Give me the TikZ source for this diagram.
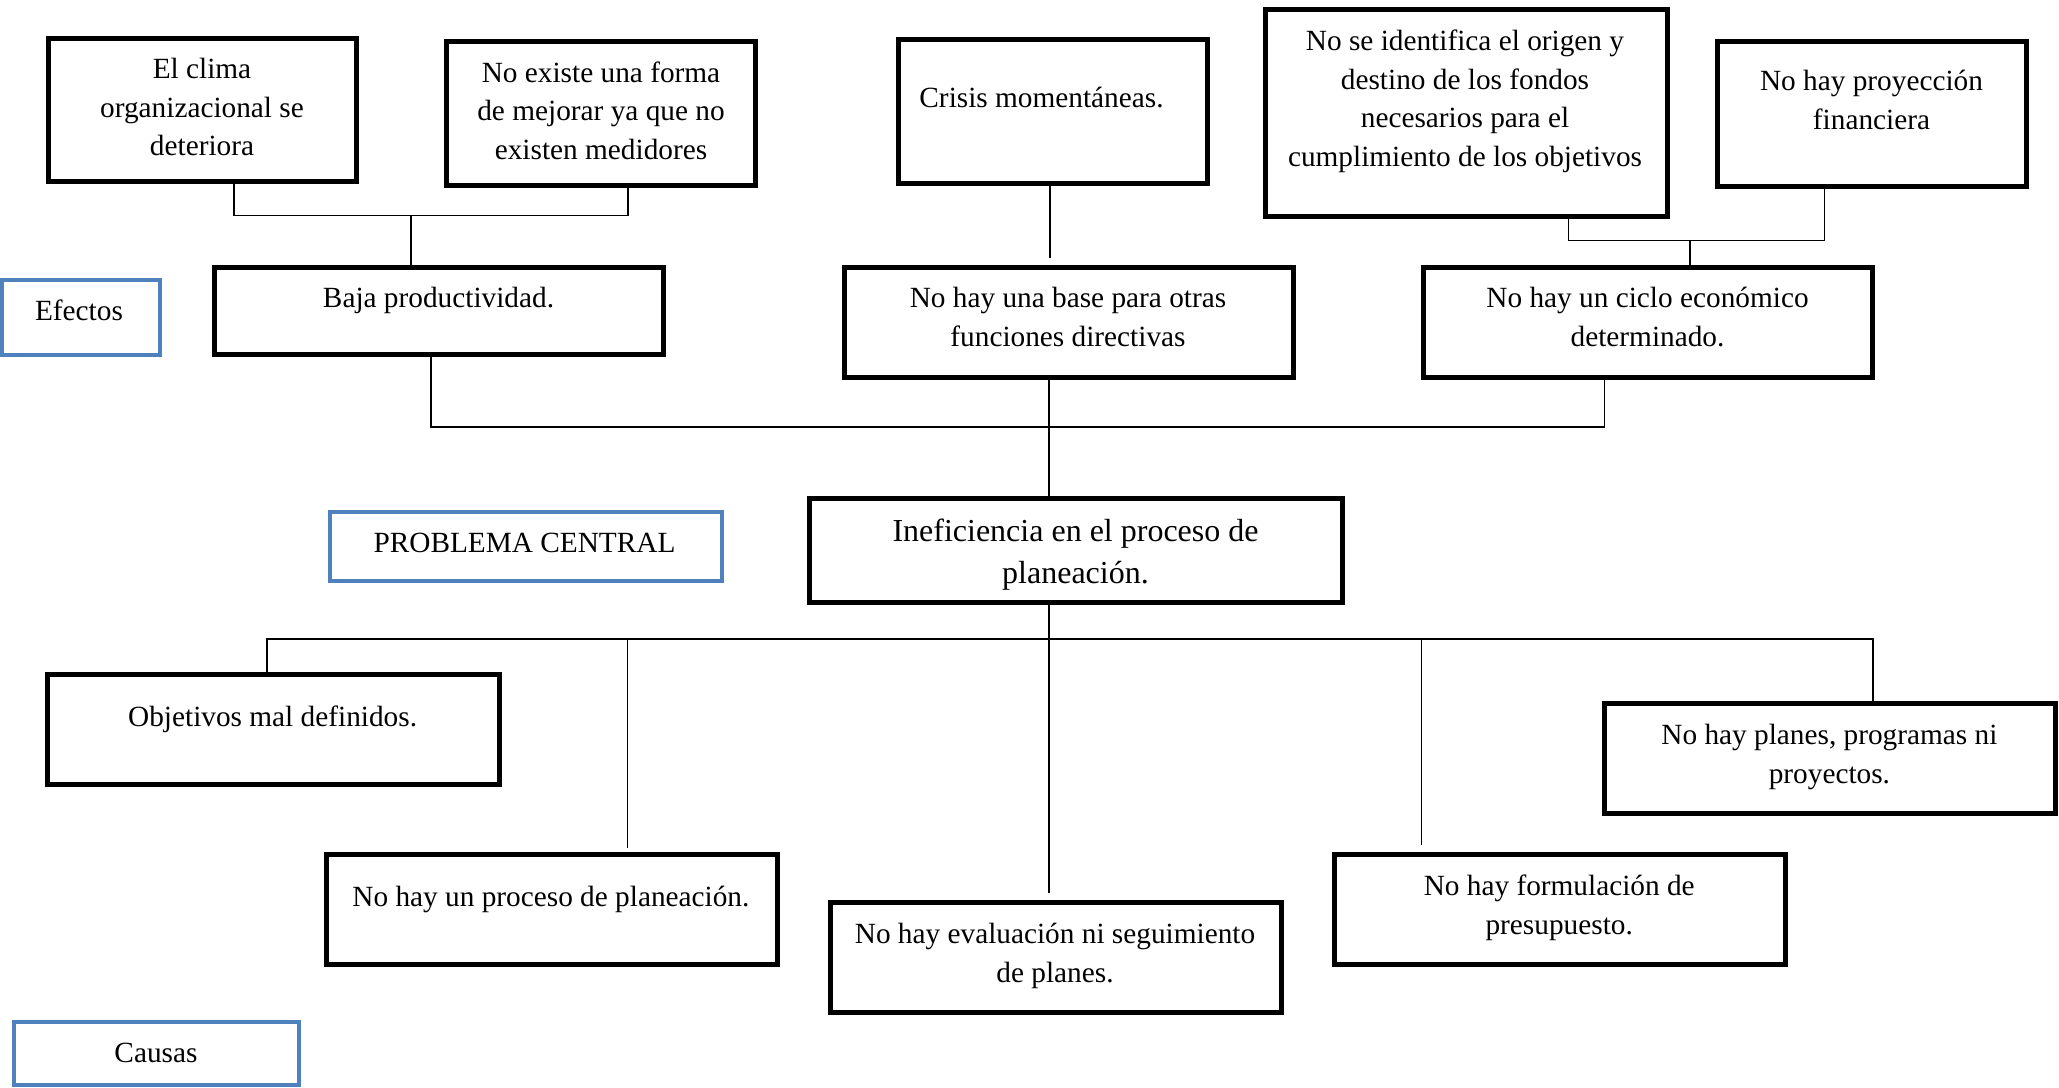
\documentclass[tikz,border=0pt]{standalone}
\usepackage{fontspec}
\setmainfont{Liberation Serif}
\usetikzlibrary{fit}
\definecolor{bluebd}{RGB}{79,129,189}
\begin{document}
\begin{tikzpicture}[x=0.5pt,y=-0.5pt,
  box/.style={draw=black,line width=2.5pt,inner sep=0pt,outer sep=0pt},
  bbox/.style={draw=bluebd,line width=2pt,inner sep=0pt,outer sep=0pt},
  txt/.style={font=\fontsize{14.65pt}{19.35pt}\selectfont,align=center,inner sep=0pt,yshift=-1.3pt},
  txtb/.style={font=\fontsize{16pt}{21.1pt}\selectfont,align=center,inner sep=0pt,yshift=-1.3pt},
  conn/.style={draw=black,line width=0.8pt}]
\useasboundingbox (0,0) rectangle (2059,1087);
% boxes
\node[box,fit={(48,38.5)(356,181)}] (b1) {};
\node[box,fit={(446.5,41.5)(755,185)}] (b2) {};
\node[box,fit={(898.5,39)(1207.5,183)}] (crisis) {};
\node[box,fit={(1265.5,9.5)(1667.5,216)}] (b4) {};
\node[box,fit={(1717.5,41.5)(2026,186)}] (b5) {};
\node[bbox,fit={(2,280)(160,355)}] (efectos) {};
\node[box,fit={(214,267)(663.5,354)}] (baja) {};
\node[box,fit={(844,267)(1293,377)}] (base) {};
\node[box,fit={(1423,267)(1872,377)}] (ciclo) {};
\node[bbox,fit={(330,512)(721.5,581)}] (pc) {};
\node[box,fit={(809,498.5)(1342,602.5)}] (inef) {};
\node[box,fit={(47.5,674)(499,784)}] (obj) {};
\node[box,fit={(1604,703.5)(2055.5,813)}] (planes) {};
\node[box,fit={(326,854)(777,964)}] (proc) {};
\node[box,fit={(830.5,902)(1281.5,1012)}] (eval) {};
\node[box,fit={(1334.5,854)(1785.5,964)}] (form) {};
\node[bbox,fit={(14,1022)(299,1085)}] (causas) {};
% texts
\node[txt] (t1) at (202,106.7) {\strut El clima\\\strut organizacional se\\\strut deteriora};
\node[txt] (t2) at (601,110.5) {\strut No existe una forma\\\strut de mejorar ya que no\\\strut existen medidores};
\node[txt] (t3) at (1041.5,96.7) {\strut Crisis momentáneas.};
\node[txt] (t4) at (1465,98.3) {\strut No se identifica el origen y\\\strut destino de los fondos\\\strut necesarios para el\\\strut cumplimiento de los objetivos};
\node[txt] (t5) at (1871.5,100) {\strut No hay proyección\\\strut financiera};
\node[txt] (t6) at (79,310) {\strut Efectos};
\node[txt] (t7) at (438.5,296.7) {\strut Baja productividad.};
\node[txt] (t8) at (1068,316.7) {\strut No hay una base para otras\\\strut funciones directivas};
\node[txt] (t9) at (1647.5,316.7) {\strut No hay un ciclo económico\\\strut determinado.};
\node[txt] (t10) at (524.5,542) {\strut PROBLEMA CENTRAL};
\node[txtb] (t11) at (1075.5,551.6) {\strut Ineficiencia en el proceso de\\\strut planeación.};
\node[txt] (t12) at (272.6,716.2) {\strut Objetivos mal definidos.};
\node[txt] (t13) at (1829.4,753.3) {\strut No hay planes, programas ni\\\strut proyectos.};
\node[txt] (t14) at (550.9,896.2) {\strut No hay un proceso de planeación.};
\node[txt] (t15) at (1055,952.4) {\strut No hay evaluación ni seguimiento\\\strut de planes.};
\node[txt] (t16) at (1559.2,904.5) {\strut No hay formulación de\\\strut presupuesto.};
\node[txt] (t17) at (156,1052.2) {\strut Causas};
% connector coordinates
\coordinate (j1a) at (234,215.5);
\coordinate (j1b) at (628,215.5);
\coordinate (j1m) at (411,215.5);
\coordinate (c1) at (1050,258);
\coordinate (j2a) at (1568.5,240.5);
\coordinate (j2b) at (1824.5,240.5);
\coordinate (j2m) at (1690,240.5);
\coordinate (m1) at (431,427);
\coordinate (m2) at (1604.5,427);
\coordinate (m3) at (1049,427);
\coordinate (e1) at (1049,893);
\coordinate (h1) at (267,639);
\coordinate (h2) at (1873,639);
\coordinate (p1) at (627.6,639);
\coordinate (p2) at (627.6,848);
\coordinate (f1) at (1421.4,639);
\coordinate (f2) at (1421.4,845);
% connectors
\draw[conn] (b1.south -| j1a) -- (j1a) -- (j1b) -- (b2.south -| j1b);
\draw[conn] (j1m) -- (baja.north -| j1m);
\draw[conn] (crisis.south -| c1) -- (c1);
\draw[conn] (b4.south -| j2a) -- (j2a) -- (j2b) -- (b5.south -| j2b);
\draw[conn] (j2m) -- (ciclo.north -| j2m);
\draw[conn] (baja.south -| m1) -- (m1) -- (m2) -- (ciclo.south -| m2);
\draw[conn] (base.south -| m3) -- (inef.north -| m3);
\draw[conn] (inef.south -| e1) -- (e1);
\draw[conn] (obj.north -| h1) -- (h1) -- (h2) -- (planes.north -| h2);
\draw[conn] (p1) -- (p2);
\draw[conn] (f1) -- (f2);
\end{tikzpicture}
\end{document}
